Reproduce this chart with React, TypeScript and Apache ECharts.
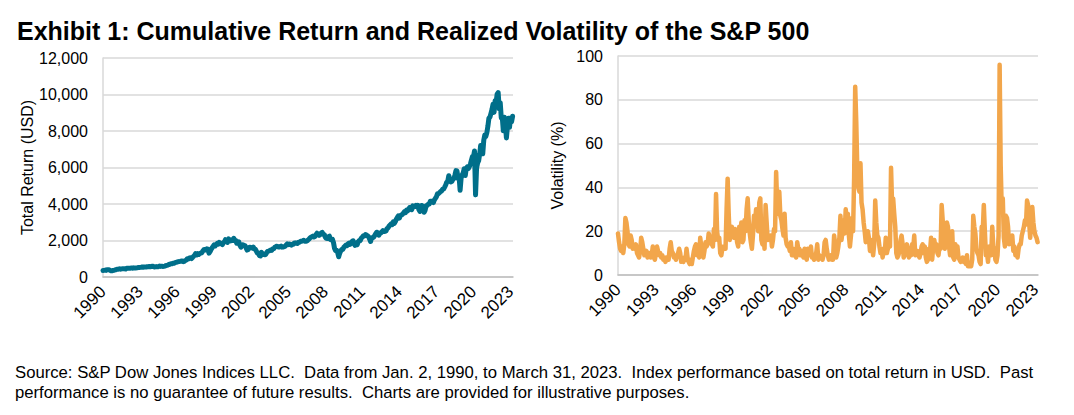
import React, { useEffect, useRef } from 'react';
import * as echarts from 'echarts';

const TITLE = 'Exhibit 1: Cumulative Return and Realized Volatility of the S&P 500';
const SOURCE_LINE_1 =
  'Source: S&P Dow Jones Indices LLC.  Data from Jan. 2, 1990, to March 31, 2023.  Index performance based on total return in USD.  Past';
const SOURCE_LINE_2 =
  'performance is no guarantee of future results.  Charts are provided for illustrative purposes.';

const START_YEAR = 1990;
const X_MIN = 1990;
const X_MAX = 2023.2;
const X_INTERVAL = 3;

// Monthly S&P 500 total return index (USD), Jan 1990 .. Mar 2023
const returnByYear: number[][] = [
  [358, 363, 372, 363, 398, 396, 394, 359, 341, 340, 362, 372],
  [388, 416, 426, 427, 446, 425, 445, 456, 448, 454, 436, 485],
  [476, 482, 473, 487, 489, 482, 502, 492, 498, 500, 517, 523],
  [527, 534, 545, 532, 546, 548, 545, 566, 561, 573, 567, 575],
  [594, 578, 553, 560, 569, 555, 573, 597, 582, 595, 574, 582],
  [597, 620, 639, 657, 684, 700, 723, 725, 755, 753, 786, 801],
  [828, 836, 844, 856, 878, 881, 842, 860, 908, 933, 1004, 984],
  [1045, 1054, 1010, 1071, 1136, 1187, 1281, 1209, 1276, 1233, 1290, 1312],
  [1327, 1422, 1495, 1510, 1484, 1544, 1528, 1307, 1391, 1504, 1595, 1687],
  [1757, 1703, 1771, 1840, 1796, 1896, 1837, 1828, 1778, 1891, 1929, 2042],
  [1939, 1902, 2088, 2025, 1983, 2032, 2000, 2124, 2012, 2003, 1845, 1854],
  [1920, 1745, 1634, 1761, 1773, 1730, 1713, 1606, 1476, 1504, 1620, 1634],
  [1610, 1579, 1638, 1539, 1527, 1418, 1308, 1316, 1173, 1150, 1351, 1272],
  [1239, 1220, 1232, 1333, 1404, 1421, 1446, 1475, 1459, 1541, 1555, 1636],
  [1666, 1689, 1664, 1638, 1660, 1692, 1636, 1643, 1661, 1686, 1754, 1814],
  [1770, 1807, 1775, 1742, 1797, 1800, 1867, 1850, 1865, 1834, 1903, 1904],
  [1954, 1959, 1984, 2011, 1953, 1956, 1968, 2015, 2067, 2134, 2175, 2205],
  [2238, 2194, 2219, 2317, 2398, 2358, 2285, 2319, 2406, 2444, 2342, 2326],
  [2186, 2115, 2106, 2209, 2237, 2049, 2032, 2061, 1877, 1562, 1450, 1465],
  [1342, 1110, 1304, 1429, 1509, 1512, 1626, 1685, 1748, 1715, 1818, 1853],
  [1786, 1842, 1953, 1984, 1825, 1730, 1851, 1768, 1926, 1999, 1999, 2132],
  [2180, 2255, 2255, 2322, 2296, 2258, 2212, 2092, 1945, 2157, 2152, 2177],
  [2275, 2373, 2451, 2436, 2290, 2384, 2417, 2471, 2535, 2488, 2503, 2525],
  [2656, 2692, 2793, 2847, 2913, 2874, 3021, 2933, 3025, 3164, 3260, 3343],
  [3227, 3375, 3403, 3428, 3509, 3581, 3532, 3673, 3621, 3710, 3809, 3800],
  [3686, 3898, 3836, 3873, 3923, 3847, 3927, 3690, 3599, 3903, 3914, 3852],
  [3550, 3656, 3904, 3919, 3989, 3999, 4147, 4153, 4154, 4078, 4229, 4313],
  [4392, 4566, 4572, 4619, 4684, 4713, 4810, 4825, 4925, 5040, 5195, 5253],
  [5553, 5348, 5212, 5232, 5358, 5391, 5592, 5830, 5803, 5407, 5517, 4750],
  [5421, 5595, 5704, 5935, 5558, 5949, 6035, 5939, 6050, 6181, 6405, 6599],
  [6592, 6900, 4500, 5960, 6244, 6368, 6727, 7211, 6937, 6753, 7492, 7780],
  [7702, 7915, 8262, 8703, 8764, 8968, 9181, 9461, 9021, 9653, 9586, 10017],
  [10100, 9214, 9556, 8718, 8734, 8013, 8751, 8394, 7621, 8239, 8699, 8198],
  [8713, 8500, 8812],
];

// Monthly realized volatility (%), Jan 1990 .. Mar 2023
const volByYear: number[][] = [
  [19, 15, 12, 11, 13, 10, 14, 26, 24, 20, 14, 13],
  [18, 16, 12, 13, 12, 14, 10, 9, 8, 11, 17, 15],
  [12, 9, 10, 11, 8, 9, 10, 8, 9, 13, 8, 7],
  [10, 13, 11, 9, 10, 8, 9, 7, 8, 6, 8, 7],
  [7, 12, 15, 11, 10, 8, 8, 7, 9, 10, 12, 10],
  [6, 7, 6, 8, 7, 12, 8, 6, 5, 7, 5, 8],
  [11, 13, 14, 9, 10, 8, 17, 13, 9, 8, 11, 15],
  [13, 14, 19, 17, 15, 14, 13, 21, 16, 37, 20, 16],
  [17, 10, 9, 12, 13, 13, 12, 30, 44, 28, 16, 22],
  [22, 18, 17, 21, 19, 15, 13, 22, 18, 24, 15, 16],
  [25, 20, 30, 35, 25, 19, 15, 12, 18, 27, 24, 30],
  [24, 20, 33, 35, 16, 14, 18, 12, 32, 24, 16, 17],
  [17, 18, 13, 16, 21, 20, 47, 32, 28, 38, 27, 25],
  [21, 18, 28, 17, 14, 13, 13, 11, 15, 9, 12, 9],
  [9, 8, 15, 12, 12, 9, 11, 9, 8, 12, 9, 7],
  [12, 9, 10, 13, 8, 8, 7, 9, 10, 14, 7, 9],
  [8, 8, 7, 9, 15, 16, 12, 9, 7, 8, 9, 7],
  [7, 18, 14, 8, 10, 13, 17, 27, 16, 20, 25, 19],
  [30, 24, 28, 18, 13, 18, 26, 20, 45, 86, 70, 48],
  [40, 38, 51, 33, 30, 24, 20, 15, 18, 20, 17, 11],
  [16, 15, 9, 14, 34, 24, 18, 17, 13, 10, 12, 8],
  [11, 10, 17, 10, 12, 14, 13, 49, 32, 35, 28, 22],
  [10, 8, 9, 11, 16, 18, 14, 8, 9, 12, 14, 12],
  [8, 11, 9, 14, 12, 18, 9, 10, 11, 9, 8, 10],
  [13, 14, 10, 13, 8, 6, 7, 12, 11, 17, 7, 13],
  [16, 13, 14, 10, 9, 13, 12, 32, 25, 14, 12, 18],
  [24, 22, 13, 9, 10, 20, 8, 7, 14, 9, 13, 8],
  [7, 6, 7, 8, 6, 7, 5, 9, 4, 4, 5, 4],
  [7, 27, 22, 19, 12, 10, 9, 6, 5, 22, 20, 32],
  [20, 9, 10, 6, 13, 13, 9, 22, 13, 12, 7, 6],
  [9, 18, 96, 50, 30, 35, 17, 13, 27, 26, 22, 14],
  [16, 17, 18, 11, 13, 9, 10, 8, 12, 14, 14, 18],
  [20, 22, 25, 23, 34, 32, 24, 17, 25, 31, 24, 20],
  [18, 17, 15],
];

const returnValues = returnByYear.flat();
const volValues = volByYear.flat();

const toPoints = (vals: number[]) => vals.map((v, i) => [START_YEAR + i / 12, v]);

const FONT = '"Liberation Sans", Arial, Helvetica, sans-serif';
const TEAL = '#006F8A';
const ORANGE = '#F2A64B';
const GRID = '#D9D9D9';

const xLabelFmt = (v: number) =>
  Number.isInteger(v) && (v - X_MIN) % X_INTERVAL === 0 ? String(v) : '';

function makeXAxis(gridIndex: number) {
  return {
    type: 'value',
    gridIndex,
    min: X_MIN,
    max: X_MAX,
    interval: X_INTERVAL,
    axisLine: { show: true, lineStyle: { color: '#BFBFBF', width: 1.5 } },
    axisTick: { show: false },
    splitLine: { show: false },
    axisLabel: {
      rotate: 45,
      margin: 12,
      fontSize: 17,
      color: '#000',
      fontFamily: FONT,
      formatter: xLabelFmt,
    },
  };
}

export default function App() {
  const ref = useRef<HTMLDivElement>(null);
  useEffect(() => {
    if (!ref.current) return;
    const chart = echarts.init(ref.current, undefined, { renderer: 'svg' });
    chart.setOption({
      animation: false,
      backgroundColor: '#fff',
      textStyle: { fontFamily: FONT },
      graphic: [
        {
          type: 'text',
          x: 17,
          y: 31,
          style: {
            text: TITLE,
            fontFamily: FONT,
            fontSize: 25,
            fontWeight: 'bold',
            fill: '#000',
            verticalAlign: 'middle',
          },
        },
        {
          type: 'text',
          left: 15,
          top: 362,
          style: {
            text: SOURCE_LINE_1 + '\n' + SOURCE_LINE_2,
            fontFamily: FONT,
            fontSize: 16.7,
            lineHeight: 20,
            fill: '#000',
          },
        },
      ],
      grid: [
        { left: 103, right: 561, top: 58, bottom: 138 },
        { left: 618, right: 36, top: 56, bottom: 140 },
      ],
      xAxis: [makeXAxis(0), makeXAxis(1)],
      yAxis: [
        {
          type: 'value',
          gridIndex: 0,
          min: 0,
          max: 12000,
          interval: 2000,
          name: 'Total Return (USD)',
          nameLocation: 'middle',
          nameGap: 68,
          nameTextStyle: { fontSize: 16, color: '#000', fontFamily: FONT },
          axisLine: { show: true, lineStyle: { color: GRID, width: 1.5 } },
          axisTick: { show: false },
          splitLine: { show: true, lineStyle: { color: GRID, width: 1.5 } },
          axisLabel: {
            fontSize: 16,
            color: '#000',
            margin: 15,
            fontFamily: FONT,
            formatter: (v: number) => v.toLocaleString('en-US'),
          },
        },
        {
          type: 'value',
          gridIndex: 1,
          min: 0,
          max: 100,
          interval: 20,
          name: 'Volatility (%)',
          nameLocation: 'middle',
          nameGap: 53,
          nameTextStyle: { fontSize: 16, color: '#000', fontFamily: FONT },
          axisLine: { show: true, lineStyle: { color: GRID, width: 1.5 } },
          axisTick: { show: false },
          splitLine: { show: true, lineStyle: { color: GRID, width: 1.5 } },
          axisLabel: {
            fontSize: 16,
            color: '#000',
            margin: 15,
            fontFamily: FONT,
          },
        },
      ],
      series: [
        {
          type: 'line',
          xAxisIndex: 0,
          yAxisIndex: 0,
          data: toPoints(returnValues),
          showSymbol: false,
          symbol: 'none',
          lineStyle: { color: TEAL, width: 5, join: 'round', cap: 'round' },
        },
        {
          type: 'line',
          xAxisIndex: 1,
          yAxisIndex: 1,
          data: toPoints(volValues),
          showSymbol: false,
          symbol: 'none',
          lineStyle: { color: ORANGE, width: 4.5, join: 'round', cap: 'round' },
        },
      ],
    });
    return () => chart.dispose();
  }, []);
  return (
    <div
      ref={ref}
      style={{ position: 'fixed', left: 0, top: 0, width: 1074, height: 415 }}
    />
  );
}
